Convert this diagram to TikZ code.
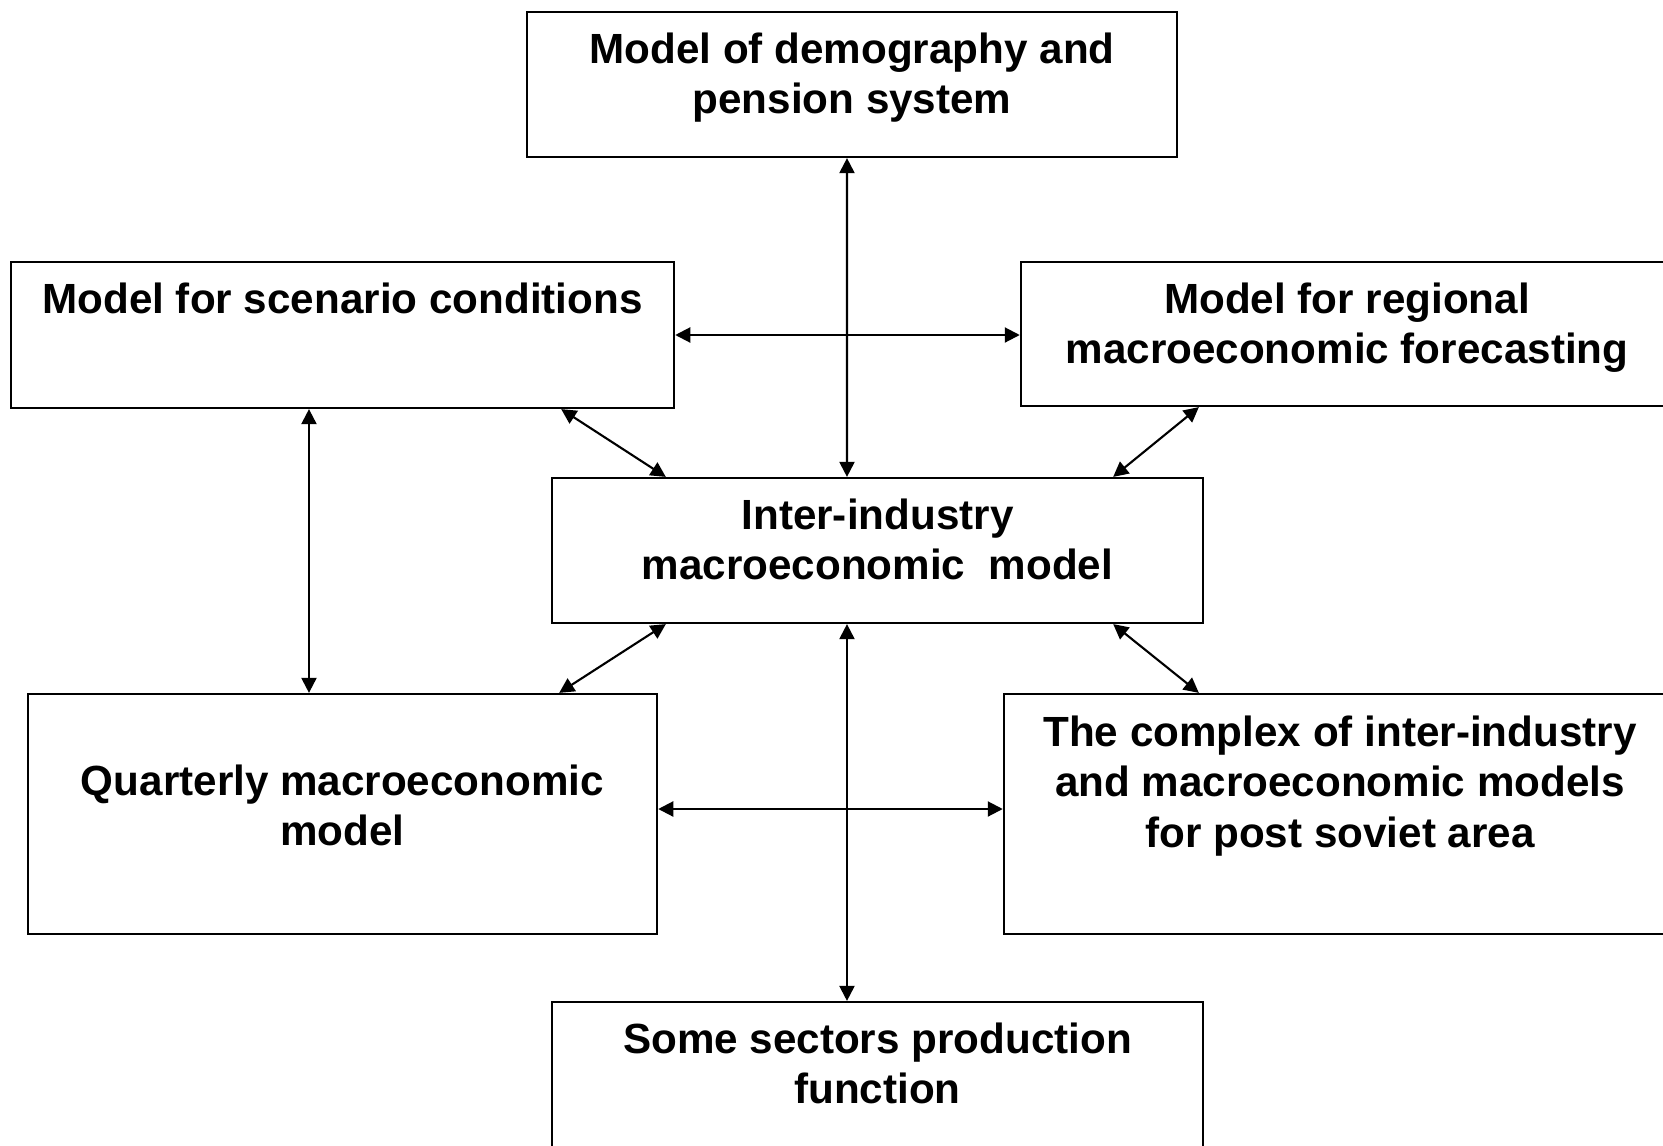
\documentclass[tikz,border=0pt]{standalone}
\usepackage{fontspec}
\setmainfont{Liberation Sans}
\usetikzlibrary{arrows.meta}
\tikzset{
  model/.style={draw, rectangle, line width=0.6pt, inner sep=0pt},
  caption/.style={anchor=north, align=center, inner sep=0pt,
    font=\fontsize{12}{14.4}\selectfont\bfseries},
  link/.style={{Triangle[length=1.5mm,width=1.5mm]}-{Triangle[length=1.5mm,width=1.5mm]},
    line width=0.6pt}
}
\begin{document}
\begin{tikzpicture}[x=0.01cm, y=-0.01cm]
   \useasboundingbox (0,0) rectangle (1663,1145);
   \clip (0,0) rectangle (1663,1145);
   % boxes
   \node[model, minimum width=6.50cm, minimum height=1.45cm] (demog)   at (852,84.5)  {};
   \node[model, minimum width=6.63cm, minimum height=1.46cm] (scen)    at (342.5,335) {};
   \node[model, minimum width=6.52cm, minimum height=1.44cm] (region)  at (1347,334)  {};
   \node[model, minimum width=6.51cm, minimum height=1.45cm] (inter)   at (877.5,550.5) {};
   \node[model, minimum width=6.29cm, minimum height=2.40cm] (quart)   at (342.5,814) {};
   \node[model, minimum width=6.72cm, minimum height=2.40cm] (complex) at (1340,814)  {};
   \node[model, minimum width=6.51cm, minimum height=1.46cm] (sector)  at (877.5,1075) {};
   % texts
   \node[caption] (demog-t)   at ([yshift=-0.21cm]demog.north)   {Model of demography and\\pension system};
   \node[caption] (scen-t)    at ([yshift=-0.21cm]scen.north)    {Model for scenario conditions};
   \node[caption] (region-t)  at ([yshift=-0.21cm]region.north)  {Model for regional\\macroeconomic forecasting};
   \node[caption] (inter-t)   at ([yshift=-0.21cm]inter.north)   {Inter-industry\\macroeconomic~ model};
   \node[caption] (quart-t)   at ([yshift=-0.71cm]quart.north)   {Quarterly macroeconomic\\model};
   \node[caption] (complex-t) at ([yshift=-0.22cm]complex.north) {The complex of inter-industry\\and macroeconomic models\\for post soviet area};
   \node[caption] (sector-t)  at ([yshift=-0.21cm]sector.north)  {Some sectors production\\function};
   % links
   \draw[link] ([xshift=-0.05cm]demog.south) -- ([xshift=-0.305cm]inter.north);
   \draw[link] (scen.east) -- (scen.east -| region.west);
   \draw[link] ([xshift=-1.14cm]scen.south east) -- ([xshift=1.15cm]inter.north west);
   \draw[link] ([xshift=1.79cm]region.south west) -- ([xshift=-0.91cm]inter.north east);
   \draw[link] ([xshift=-0.335cm]scen.south) -- ([xshift=-0.335cm]scen.south |- quart.north);
   \draw[link] ([xshift=1.15cm]inter.south west) -- ([xshift=-0.99cm]quart.north east);
   \draw[link] ([xshift=-0.91cm]inter.south east) -- ([xshift=1.96cm]complex.north west);
   \draw[link] ([xshift=-0.305cm]inter.south) -- ([xshift=-0.305cm]inter.south |- sector.north);
   \draw[link] ([yshift=0.05cm]quart.east) -- ([yshift=0.05cm]quart.east -| complex.west);
\end{tikzpicture}
\end{document}
